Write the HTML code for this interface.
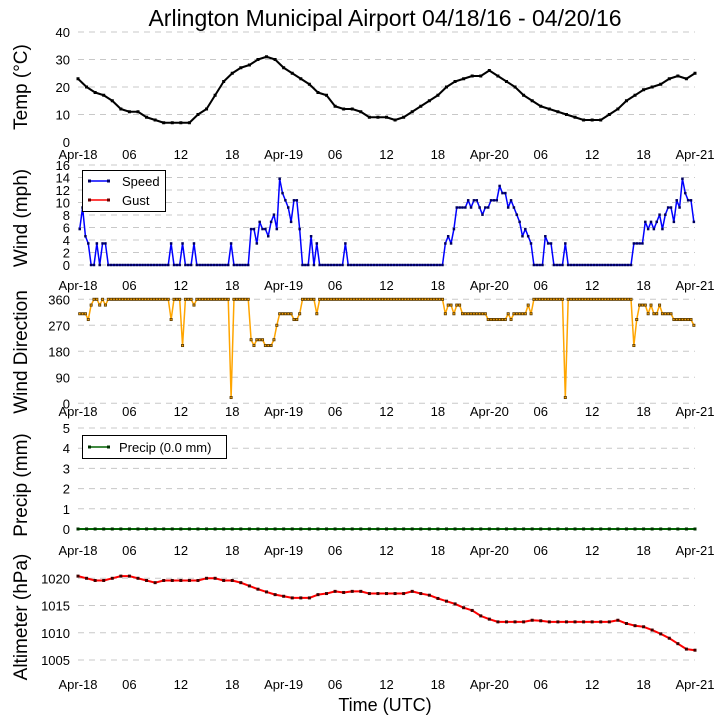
<!DOCTYPE html>
<html><head><meta charset="utf-8">
<style>
html,body{margin:0;padding:0;background:#fff;}
svg{display:block;font-family:"Liberation Sans",sans-serif;}
</style></head>
<body>
<svg id="chart" width="724" height="725" viewBox="0 0 724 725">
<text x="385" y="26" font-size="23" text-anchor="middle">Arlington Municipal Airport 04/18/16 - 04/20/16</text>
<text x="385" y="711" font-size="18" text-anchor="middle">Time (UTC)</text>
</svg>
<script>
// ---- data ----
const xTickLabels = ["Apr-18","06","12","18","Apr-19","06","12","18","Apr-20","06","12","18","Apr-21"];
const xTickHours = [0,6,12,18,24,30,36,42,48,54,60,66,72];

const tempC = [23,20,18,17,15,12,11,11,9,8,7,7,7,7,10,12,17,22,25,27,28,30,31,30,27,25,23,21,18,17,13,12,12,11,9,9,9,8,9,11,13,15,17,20,22,23,24,24,26,24,22,20,17,15,13,12,11,10,9,8,8,8,10,12,15,17,19,20,21,23,24,23,25];

const windSpeed = [5.75,9.2,4.6,3.45,0,0,3.45,0,3.45,3.45,0,
0,0,0,0,0,0,0,0,0,0,0,0,0,0,0,0,0,0,0,0,0,
3.45,0,0,0,3.45,0,0,0,3.45,
0,0,0,0,0,0,0,0,0,0,0,0,
3.45,0,0,0,0,0,0,
5.75,5.75,3.45,6.9,5.75,5.75,4.6,6.9,8.05,5.75,13.8,11.5,10.35,9.2,6.9,10.35,10.35,5.75,
0,0,0,4.6,0,3.45,
0,0,0,0,0,0,0,0,0,
3.45,
0,0,0,0,0,0,0,0,0,0,0,0,0,0,0,0,0,0,0,0,0,0,0,0,0,0,0,0,0,0,0,0,0,0,
3.45,4.6,3.45,5.75,9.2,9.2,9.2,9.2,10.35,9.2,10.35,10.35,9.2,8.05,9.2,9.2,10.35,10.35,10.35,12.65,11.5,11.5,9.2,10.35,9.2,8.05,6.9,4.6,5.75,4.6,3.45,0,0,0,0,4.6,3.45,3.45,0,0,0,0,3.45,
0,0,0,0,0,0,0,0,0,0,0,0,0,0,0,0,0,0,0,0,0,0,0,
3.45,3.45,3.45,3.45,
6.9,5.75,6.9,5.75,6.9,8.05,5.75,8.05,9.2,9.2,6.9,10.35,9.2,13.8,11.5,10.35,10.35,6.9];

const windDir = [310,310,310,290,340,360,360,340,360,340,
360,360,360,360,360,360,360,360,360,360,360,360,360,360,360,360,360,360,360,360,360,360,
290,360,360,360,200,360,360,360,340,
360,360,360,360,360,360,360,360,360,360,360,360,
20,360,360,360,360,360,360,
220,200,220,220,220,200,200,200,220,270,310,310,310,310,310,290,290,310,
360,360,360,360,360,310,
360,360,360,360,360,360,360,360,360,360,360,360,360,360,360,360,360,360,360,360,360,360,360,360,360,360,360,360,360,360,360,360,360,360,360,360,360,360,360,360,360,360,360,360,
310,340,340,310,340,340,310,310,310,310,310,310,310,310,310,290,290,290,290,290,290,290,310,290,310,310,310,310,310,340,310,360,360,360,360,360,360,360,360,360,360,360,20,
360,360,360,360,360,360,360,360,360,360,360,360,360,360,360,360,360,360,360,360,360,360,360,
200,290,340,340,340,310,340,310,310,340,310,310,310,310,290,290,290,290,290,290,290,270];

const precipMm = [0,0,0,0,0,0,0,0,0,0,0,0,0,0,0,0,0,0,0,0,0,0,0,0,0,0,0,0,0,0,0,0,0,0,0,0,0,0,0,0,0,0,0,0,0,0,0,0,0,0,0,0,0,0,0,0,0,0,0,0,0,0,0,0,0,0,0,0,0,0,0,0,0];

const altimeterHpa = [1020.4,1020,1019.6,1019.6,1020,1020.4,1020.4,1020,1019.6,1019.2,1019.6,1019.6,1019.6,1019.6,1019.6,1020,1020,1019.6,1019.6,1019.2,1018.6,1018,1017.5,1017,1016.7,1016.4,1016.4,1016.4,1017,1017.2,1017.6,1017.4,1017.6,1017.6,1017.2,1017.2,1017.2,1017.2,1017.2,1017.6,1017.2,1016.9,1016.3,1015.8,1015.3,1014.6,1014.1,1013.1,1012.5,1012,1012,1012,1012,1012.3,1012.2,1012,1012,1012,1012,1012,1012,1012,1012,1012.3,1011.7,1011.3,1011.1,1010.5,1009.8,1009,1008,1007,1006.8];

const tempTicks = [0,10,20,30,40];
const windTicks = [0,2,4,6,8,10,12,14,16];
const dirTicks = [0,90,180,270,360];
const precipTicks = [0,1,2,3,4,5];
const altTicks = [1005,1010,1015,1020];

// ---- scales ----
const X0 = 78, X1 = 695, HOURS = 72;
function xScale(h){ return X0 + h*(X1-X0)/HOURS; }
function lin(v0,y0,v1,y1){ return v => y0 + (v-v0)*(y1-y0)/(v1-v0); }
const yTemp = lin(0,142,40,32);
const yWind = lin(0,265,16,165);
const yDir = lin(0,403.3,360,299.3);
const yPrecip = lin(0,529,5,428);
const yAlt = lin(1005,660,1020,578.3);
function hourlyTime(i){ return i; }
function windTime(i){ return 0.2 + i/3; }

const svg = document.getElementById('chart');
const NS = 'http://www.w3.org/2000/svg';
function mk(tag, attrs, parent){
  const el = document.createElementNS(NS, tag);
  for (const k in attrs) el.setAttribute(k, attrs[k]);
  (parent||svg).appendChild(el);
  return el;
}

function panel(name, ticks, yS, tickGrid, labelY, yTitle, titleCy){
  const g = mk('g', {});
  
  
  ticks.forEach(t => {
    const y = yS(t);
    if (tickGrid(t)) {
      const ln = mk('line', {x1:X0, x2:X1, y1:y, y2:y, stroke:'#c8c8c8', 'stroke-width':1, 'stroke-dasharray':'6,5'}, g);
      
      
    }
    const tx = mk('text', {x:70, y:y+5, 'font-size':13, 'text-anchor':'end'}, g);
    tx.textContent = t;
    
    
  });
  xTickLabels.forEach((lab, i) => {
    const tx = mk('text', {x:xScale(xTickHours[i]), y:labelY, 'font-size':13, 'text-anchor':'middle'}, g);
    tx.textContent = lab;
    
    
  });
  const tt = mk('text', {x:0, y:0, 'font-size':19, 'text-anchor':'middle', transform:'translate(27,'+titleCy+') rotate(-90)'}, g);
  tt.textContent = yTitle;
  
  
  return g;
}

function series(g, name, vals, tFn, yS, color, lw, mColor, ms, mFill){
  const pts = vals.map((v,i) => xScale(tFn(i)).toFixed(2) + ',' + yS(v).toFixed(2)).join(' ');
  const pl = mk('polyline', {points:pts, fill:'none', stroke:color, 'stroke-width':lw, 'stroke-linejoin':'round'}, g);
  
  
  vals.forEach((v,i) => {
    const attrs = {x:xScale(tFn(i))-ms/2, y:yS(v)-ms/2, width:ms, height:ms, fill:mFill||mColor};
    if (mFill) { attrs.stroke = mColor; attrs['stroke-width'] = 0.8; }
    const r = mk('rect', attrs, g);
    
    
  });
}

// Temperature
const gT = panel('temp', tempTicks, yTemp, t => t>0, 159, 'Temp (\u00B0C)', 87);
series(gT, 'temp', tempC, hourlyTime, yTemp, '#000', 2, '#000', 3);

// Wind
const gW = panel('wind', windTicks, yWind, t => true, 290, 'Wind (mph)', 218);
series(gW, 'wind-speed', windSpeed, windTime, yWind, '#0000ff', 1.5, '#000060', 2.5);
const lg = mk('g', {}, gW);


mk('rect', {x:82.5, y:170.5, width:83, height:41, fill:'#fff', stroke:'#000', 'stroke-width':1}, lg);
mk('line', {x1:89, x2:109, y1:181, y2:181, stroke:'#0000ff', 'stroke-width':1.5}, lg);
mk('rect', {x:88, y:179.5, width:3, height:3, fill:'#000060'}, lg);
mk('rect', {x:107, y:179.5, width:3, height:3, fill:'#000060'}, lg);
const ls = mk('text', {x:122, y:186, 'font-size':13}, lg); ls.textContent = 'Speed';


mk('line', {x1:89, x2:109, y1:200, y2:200, stroke:'#ff0000', 'stroke-width':1.5}, lg);
mk('rect', {x:88, y:198.5, width:3, height:3, fill:'#600000'}, lg);
mk('rect', {x:107, y:198.5, width:3, height:3, fill:'#600000'}, lg);
const lgu = mk('text', {x:122, y:205, 'font-size':13}, lg); lgu.textContent = 'Gust';



// Wind direction
const gD = panel('wind-direction', dirTicks, yDir, t => true, 416, 'Wind Direction', 352);
series(gD, 'wind-direction', windDir, windTime, yDir, '#ffa500', 1.5, '#5a3a00', 2.2, '#ffa500');

// Precip
const gP = panel('precip', precipTicks, yPrecip, t => true, 555, 'Precip (mm)', 485);
series(gP, 'precip', precipMm, hourlyTime, yPrecip, '#006400', 2, '#003000', 3);
const lp = mk('g', {}, gP);


mk('rect', {x:82.5, y:435.5, width:144, height:23, fill:'#fff', stroke:'#000', 'stroke-width':1}, lp);
mk('line', {x1:89, x2:109, y1:447, y2:447, stroke:'#006400', 'stroke-width':1.5}, lp);
mk('rect', {x:88, y:445.5, width:3, height:3, fill:'#003000'}, lp);
mk('rect', {x:107, y:445.5, width:3, height:3, fill:'#003000'}, lp);
const lpt = mk('text', {x:119, y:452, 'font-size':13}, lp); lpt.textContent = 'Precip (0.0 mm)';



// Altimeter
const gA = panel('altimeter', altTicks, yAlt, t => true, 689, 'Altimeter (hPa)', 617);
series(gA, 'altimeter', altimeterHpa, hourlyTime, yAlt, '#ff0000', 2, '#400000', 3);
</script>
</body></html>
